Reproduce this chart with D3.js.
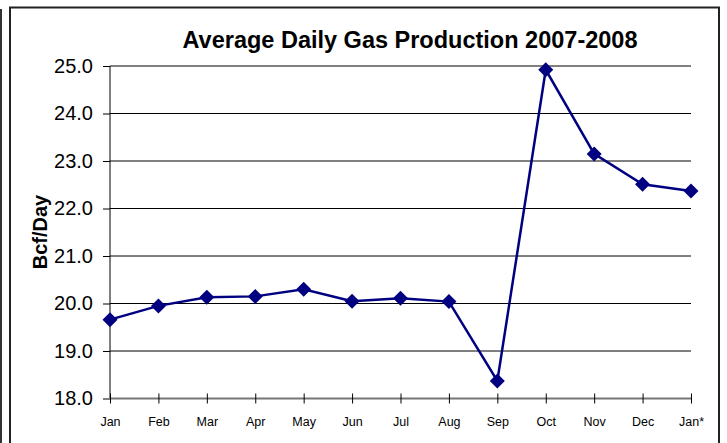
<!DOCTYPE html>
<html>
<head>
<meta charset="utf-8">
<script src="https://cdn.jsdelivr.net/npm/d3@7"></script>
<style>
  body { margin: 0; background: #fff; }
  svg { display: block; }
</style>
</head>
<body>
<script>
const months = ["Jan", "Feb", "Mar", "Apr", "May", "Jun", "Jul", "Aug", "Sep", "Oct", "Nov", "Dec", "Jan*"];
const production = [19.66, 19.95, 20.13, 20.15, 20.30, 20.05, 20.11, 20.04, 18.37, 24.92, 23.15, 22.51, 22.37];
const yTicks = [18, 19, 20, 21, 22, 23, 24, 25];

const width = 727, height = 443;
const font = "'Liberation Sans', Arial, sans-serif";

const svg = d3.select("body").append("svg")
    .attr("width", width)
    .attr("height", height);

// outer frame (bottom runs off the picture)
svg.append("rect")
    .attr("x", 0).attr("y", 9)
    .attr("width", 2).attr("height", height)
    .attr("fill", "#333");
svg.append("path")
    .attr("d", `M10,${height + 5} V7.5 H719 V${height + 5}`)
    .attr("fill", "none")
    .attr("stroke", "#222")
    .attr("stroke-width", 2);

const x = d3.scalePoint()
    .domain(months)
    .range([110, 691]);

const y = d3.scaleLinear()
    .domain([18, 25])
    .range([398.5, 66]);

// gridlines
svg.append("g")
    .selectAll("line")
    .data(yTicks.filter(d => d > 18))
    .join("line")
    .attr("x1", 110).attr("x2", 691)
    .attr("y1", d => y(d)).attr("y2", d => y(d))
    .attr("stroke", "#000")
    .attr("stroke-width", 1);

// y axis
const yAxis = svg.append("g")
    .attr("transform", "translate(110,0)")
    .call(d3.axisLeft(y).tickValues(yTicks).tickFormat(d3.format(".1f")).tickSize(7).tickPadding(10));
yAxis.select(".domain").attr("stroke", "#000").attr("d", "M0,66V398");
yAxis.selectAll(".tick line").attr("stroke", "#000");
yAxis.selectAll("text")
    .attr("fill", "#000")
    .style("font", `20px ${font}`);

// x axis
const xAxis = svg.append("g")
    .attr("transform", "translate(0,398.5)")
    .call(d3.axisBottom(x).tickSize(5).tickPadding(14));
xAxis.select(".domain").attr("stroke", "#777").attr("stroke-width", 2).attr("d", "M110,0H691");
xAxis.selectAll(".tick line").attr("stroke", "#000").attr("y1", -5);
xAxis.selectAll("text")
    .attr("fill", "#000")
    .style("font", `12.5px ${font}`);

// line
const line = d3.line()
    .x((d, i) => x(months[i]))
    .y(d => y(d));

svg.append("path")
    .datum(production)
    .attr("d", line)
    .attr("fill", "none")
    .attr("stroke", "#000080")
    .attr("stroke-width", 2.5);

svg.append("g")
    .selectAll("path")
    .data(production)
    .join("path")
    .attr("transform", (d, i) => `translate(${x(months[i])},${y(d)})`)
    .attr("d", "M0,-7.5L7.5,0L0,7.5L-7.5,0Z")
    .attr("fill", "#000080");

// title
svg.append("text")
    .attr("x", 410)
    .attr("y", 48)
    .attr("text-anchor", "middle")
    .style("font", `bold 23.5px ${font}`)
    .text("Average Daily Gas Production 2007-2008");

// y label
svg.append("text")
    .attr("transform", "translate(47,232) rotate(-90)")
    .attr("text-anchor", "middle")
    .style("font", `bold 20px ${font}`)
    .text("Bcf/Day");
</script>
</body>
</html>
